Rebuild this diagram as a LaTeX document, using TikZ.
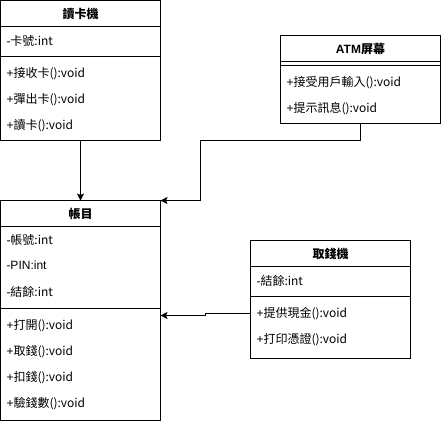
\documentclass[tikz,border=0pt]{standalone}
\usepackage{fontspec}
\setmainfont{Liberation Sans}
\newfontfamily\cjk{Noto Sans CJK TC}
\usetikzlibrary{arrows.meta}
\begin{document}
\begin{tikzpicture}[x=1pt,y=-1pt,
  every node/.style={inner sep=0pt,outer sep=0pt},
  classbox/.style={draw,line width=1pt,anchor=north west,minimum width=160pt},
  title/.style={font=\fontsize{12}{14}\selectfont\bfseries},
  member/.style={anchor=west,font=\fontsize{12}{14}\selectfont},
  sep/.style={line width=1pt},
  conn/.style={line width=1pt,-{Stealth[length=7pt,width=7pt,inset=1.5pt]}}]
\useasboundingbox (0,0) rectangle (441,421);

% 讀卡機
\node[classbox,minimum height=140pt] (reader) at (0.5,0.5) {};
\node[title] (readerT) at (80.5,13.5) {\cjk{讀卡機}};
\draw[sep] (0.5,26.5) -- (160.5,26.5);
\node[member] (r1) at (6.5,40.5) {-\cjk{卡號}:int};
\draw[sep] (0.5,56.5) -- (160.5,56.5);
\node[member] (r2) at (6.5,73.5) {+\cjk{接收卡}():void};
\node[member] (r3) at (6.5,99.5) {+\cjk{彈出卡}():void};
\node[member] (r4) at (6.5,125.5) {+\cjk{讀卡}():void};

% 帳目
\node[classbox,minimum height=220pt] (account) at (0.5,200.5) {};
\node[title] (accountT) at (80.5,213.5) {\cjk{帳目}};
\draw[sep] (0.5,226.5) -- (160.5,226.5);
\node[member] (a1) at (6.5,239.5) {-\cjk{帳號}:int};
\node[member] (a2) at (6.5,265.5) {-PIN:int};
\node[member] (a3) at (6.5,291.5) {-\cjk{結餘}:int};
\draw[sep] (0.5,308.5) -- (160.5,308.5);
\node[member] (a4) at (6.5,325.5) {+\cjk{打開}():void};
\node[member] (a5) at (6.5,351.5) {+\cjk{取錢}():void};
\node[member] (a6) at (6.5,377.5) {+\cjk{扣錢}():void};
\node[member] (a7) at (6.5,403.5) {+\cjk{驗錢數}():void};

% ATM屏幕
\node[classbox,minimum height=88pt] (atm) at (280.5,35.5) {};
\node[title] (atmT) at (360.5,49) {ATM\cjk{屏幕}};
\draw[sep] (280.5,61.5) -- (440.5,61.5);
\draw[sep] (280.5,65.5) -- (440.5,65.5);
\node[member] (s1) at (286.5,82.5) {+\cjk{接受用戶輸入}():void};
\node[member] (s2) at (286.5,108.5) {+\cjk{提示訊息}():void};

% 取錢機
\node[classbox,minimum height=118pt] (cash) at (250.5,240.5) {};
\node[title] (cashT) at (330.5,254) {\cjk{取錢機}};
\draw[sep] (250.5,266.5) -- (410.5,266.5);
\node[member] (c1) at (256.5,280.5) {-\cjk{結餘}:int};
\draw[sep] (250.5,296.5) -- (410.5,296.5);
\node[member] (c2) at (256.5,313.5) {+\cjk{提供現金}():void};
\node[member] (c3) at (256.5,339.5) {+\cjk{打印憑證}():void};

% connectors
\draw[conn] (reader.south) -- (account.north);
\draw[conn] (atm.south) |- (200.5,140.5) |- (account.north east);
\draw[conn] (cash.west |- c2.west) -- (205.5,313.5) -- (205.5,315.5) -- (account.east |- 0,315.5);
\end{tikzpicture}
\end{document}
